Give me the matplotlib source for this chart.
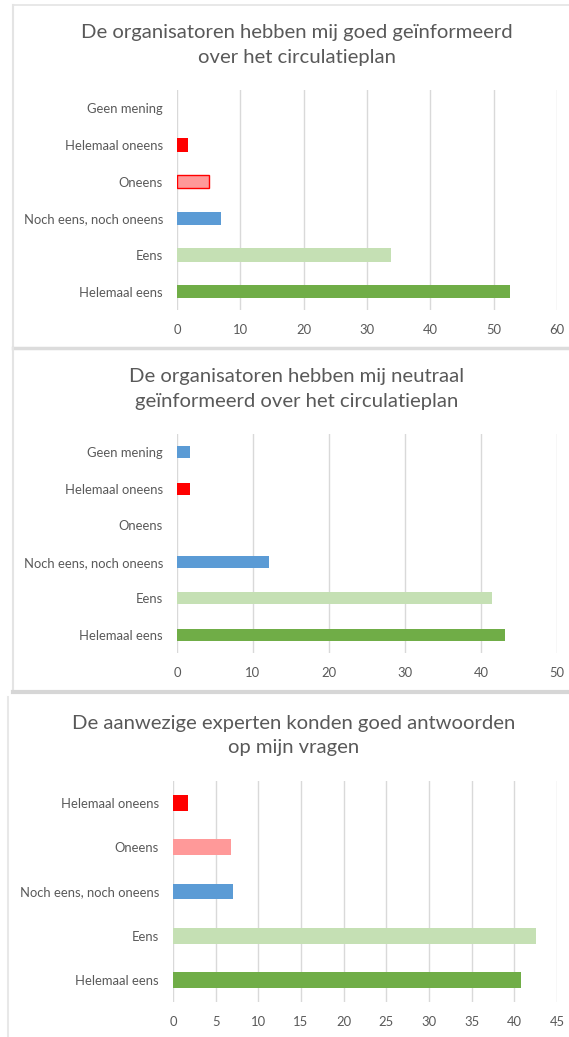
import matplotlib
matplotlib.use("Agg")
import matplotlib.pyplot as plt
from matplotlib.lines import Line2D

plt.rcParams['font.family'] = ['Lato', 'DejaVu Sans']

W, H = 569, 1037

cats6 = ["Helemaal eens", "Eens", "Noch eens, noch oneens", "Oneens",
         "Helemaal oneens", "Geen mening"]
cats5 = cats6[:5]

title1 = "De organisatoren hebben mij goed geïnformeerd\nover het circulatieplan"
vals1 = [52.5, 33.8, 7.0, 5.1, 1.8, 0.0]
title2 = "De organisatoren hebben mij neutraal\ngeïnformeerd over het circulatieplan"
vals2 = [43.1, 41.5, 12.1, 0.0, 1.7, 1.7]
title3 = "De aanwezige experten konden goed antwoorden\nop mijn vragen"
vals3 = [40.8, 42.5, 7.0, 6.8, 1.7]

xticks1 = [0, 10, 20, 30, 40, 50, 60]
xticks2 = [0, 10, 20, 30, 40, 50]
xticks3 = [0, 5, 10, 15, 20, 25, 30, 35, 40, 45]

col_map = {
    "Helemaal eens": "#70ad47",
    "Eens": "#c5e0b4",
    "Noch eens, noch oneens": "#5b9bd5",
    "Oneens": "#ff9999",
    "Helemaal oneens": "#ff0000",
    "Geen mening": "#5b9bd5",
}

fig = plt.figure(figsize=(W / 100, H / 100), dpi=100)


def fx(px):
    return px / W


def fy(py):
    return 1 - py / H


def add_axes(x0, x1, y0, y1):
    return fig.add_axes([fx(x0), fy(y1), fx(x1) - fx(x0), (y1 - y0) / H])


def style(ax, cats, vals, xticks, height, edge_oneens=False):
    y = list(range(len(cats)))
    colors = [col_map[c] for c in cats]
    bars = ax.barh(y, vals, height=height, color=colors, zorder=3)
    if edge_oneens:
        i = cats.index("Oneens")
        bars[i].set_edgecolor("#ff0000")
        bars[i].set_linewidth(1.0)
    ax.set_yticks(y)
    ax.set_yticklabels(cats)
    ax.set_ylim(-0.5, len(cats) - 0.5)
    ax.set_xlim(xticks[0], xticks[-1])
    ax.set_xticks(xticks)
    ax.grid(axis="x", color="#d9d9d9", linewidth=1.0, zorder=0)
    for s in ax.spines.values():
        s.set_visible(False)
    ax.tick_params(axis="both", length=0, labelsize=9.4, colors="#595959")
    ax.tick_params(axis="y", pad=10)
    ax.tick_params(axis="x", pad=10)


TFS = 14.6
LS = 1.55

# Panel 1
ax1 = add_axes(177, 557, 90, 310)
style(ax1, cats6, vals1, xticks1, 0.36, edge_oneens=True)
fig.text(fx(297), fy(45), title1, ha="center", va="center", fontsize=TFS,
         color="#595959", linespacing=LS)

# Panel 2
ax2 = add_axes(177, 557, 434, 653)
style(ax2, cats6, vals2, xticks2, 0.34)
fig.text(fx(297), fy(389), title2, ha="center", va="center", fontsize=TFS,
         color="#595959", linespacing=LS)

# Panel 3
ax3 = add_axes(173, 557, 781, 1002)
style(ax3, cats5, vals3, xticks3, 0.355)
fig.text(fx(294), fy(735.5), title3, ha="center", va="center", fontsize=TFS,
         color="#595959", linespacing=LS)

# frames
def line(x0, y0, x1, y1, lw, c):
    fig.add_artist(Line2D([fx(x0), fx(x1)], [fy(y0), fy(y1)], lw=lw, color=c,
                          transform=fig.transFigure))

line(13, 5, 569, 5, 1.2, "#e4e4e4")
line(13, 5, 13, 347, 1.5, "#e4e4e4")
line(13, 347.5, 569, 347.5, 2.5, "#dcdcdc")
line(13, 348, 13, 692, 1.5, "#e4e4e4")
line(13, 692, 569, 692, 3.0, "#d6d6d6")
line(8, 697, 8, 1037, 1.5, "#e8e8e8")

fig.savefig("out.png", dpi=100, facecolor="white")
